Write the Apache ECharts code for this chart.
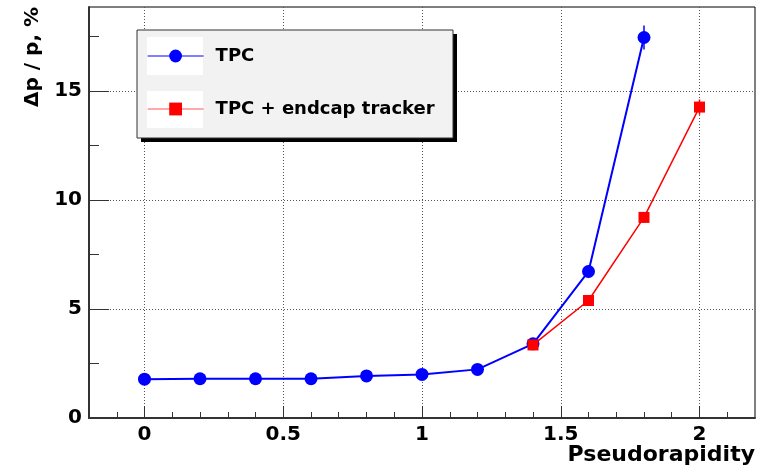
<!DOCTYPE html>
<html><head><meta charset="utf-8">
<script src="https://cdn.jsdelivr.net/npm/echarts@6/dist/echarts.min.js"></script>
<style>html,body{margin:0;padding:0;background:#fff}#c{width:769px;height:472px}</style>
</head><body><div id="c"></div>
<script>
// ---- data ----
const etaTPC = [0, 0.2, 0.4, 0.6, 0.8, 1.0, 1.2, 1.4, 1.6, 1.8];
const resTPC = [1.78, 1.80, 1.80, 1.80, 1.93, 2.00, 2.23, 3.40, 6.72, 17.45];
const errTPC = [0.05, 0.05, 0.05, 0.05, 0.05, 0.06, 0.07, 0.12, 0.30, 0.55];
const etaEndcap = [1.4, 1.6, 1.8, 2.0];
const resEndcap = [3.35, 5.39, 9.20, 14.26];
const errEndcap = [0.10, 0.15, 0.25, 0.35];
const xMajor = [0, 0.5, 1, 1.5, 2];
const xMinor = [-0.1, 0.1, 0.2, 0.3, 0.4, 0.6, 0.7, 0.8, 0.9, 1.1, 1.2, 1.3, 1.4, 1.6, 1.7, 1.8, 1.9, 2.1];
const yMajor = [0, 5, 10, 15];
const yMinor = [2.5, 7.5, 12.5, 17.5];
const seriesNames = ['TPC', 'TPC + endcap tracker'];
const xTitle = 'Pseudorapidity';
const yTitle = 'Δp / p, %';

const FONT = "'DejaVu Sans', 'Liberation Sans', Arial, sans-serif";
const BLUE = '#0000ff', RED = '#ff0000';

const pts = (xs, ys) => xs.map((x, i) => [x, ys[i]]);
const errPts = (xs, ys, es) => xs.map((x, i) => [x, ys[i], es[i]]);

function errRender(color) {
  return function (params, api) {
    const x = api.value(0), y = api.value(1), e = api.value(2);
    const a = api.coord([x, y + e]), b = api.coord([x, y - e]);
    return { type: 'line', shape: { x1: a[0], y1: a[1], x2: b[0], y2: b[1] },
             style: { stroke: color, lineWidth: 1.5 } };
  };
}

const chart = echarts.init(document.getElementById('c'), null, { renderer: 'canvas' });
const labelStyle = { fontFamily: FONT, fontWeight: 'bold', fontSize: 20, color: '#000' };

chart.setOption({
  animation: false,
  backgroundColor: '#fff',
  grid: { left: 89, right: 14, top: 7, bottom: 54, show: true, borderColor: '#000', borderWidth: 1,
          containLabel: false, outerBoundsMode: 'none' },
  xAxis: [
    { type: 'value', min: -0.2, max: 2.2, position: 'bottom', gridIndex: 0,
      axisLine: { show: true, onZero: false, lineStyle: { color: '#333', width: 2 } },
      axisTick: { show: true, inside: true, length: 12, customValues: xMajor, lineStyle: { color: '#333', width: 1 } },
      axisLabel: Object.assign({ customValues: xMajor, margin: 7 }, labelStyle),
      splitLine: { show: true, lineStyle: { type: [1, 2], color: '#555', width: 1 } },
      name: xTitle, nameLocation: 'end', nameGap: 0, nameMoveOverlap: false,
      nameTextStyle: { fontFamily: FONT, fontWeight: 'bold', fontSize: 22, color: '#000', align: 'right', verticalAlign: 'top', padding: [26, 0, 0, 0] } },
    { type: 'value', min: -0.2, max: 2.2, position: 'bottom', gridIndex: 0,
      axisLine: { show: false, onZero: false },
      axisTick: { show: true, inside: true, length: 6, customValues: xMinor, lineStyle: { color: '#333', width: 1 } },
      axisLabel: { show: false }, splitLine: { show: false } }
  ],
  yAxis: [
    { type: 'value', min: 0, max: 18.85, position: 'left', gridIndex: 0,
      axisLine: { show: true, onZero: false, lineStyle: { color: '#333', width: 2 } },
      axisTick: { show: true, inside: true, length: 20, customValues: yMajor, lineStyle: { color: '#333', width: 1 } },
      axisLabel: Object.assign({ customValues: yMajor, margin: 7 }, labelStyle),
      splitLine: { show: true, lineStyle: { type: [1, 2], color: '#555', width: 1 } },
      name: yTitle, nameLocation: 'end', nameGap: 0, nameRotate: 90, nameMoveOverlap: false,
      nameTextStyle: { fontFamily: FONT, fontWeight: 'bold', fontSize: 20, color: '#000', align: 'right', verticalAlign: 'bottom', padding: [0, 0, 46, 0] } },
    { type: 'value', min: 0, max: 18.85, position: 'left', gridIndex: 0,
      axisLine: { show: false, onZero: false },
      axisTick: { show: true, inside: true, length: 10, customValues: yMinor, lineStyle: { color: '#333', width: 1 } },
      axisLabel: { show: false }, splitLine: { show: false } }
  ],
  legend: {
    orient: 'vertical', left: 147, top: 46, padding: 0,
    itemWidth: 56, itemHeight: 16, itemGap: 33, selectedMode: false,
    textStyle: { fontFamily: FONT, fontWeight: 'bold', fontSize: 18, color: '#000', lineHeight: 20, padding: [0, 0, 0, 7] },
    data: [
      { name: seriesNames[0], lineStyle: { width: 1, color: BLUE } },
      { name: seriesNames[1], lineStyle: { width: 1.2, color: '#ff5555' } }
    ]
  },
  graphic: [
    { type: 'rect', z: 3, shape: { x: 141, y: 34, width: 316, height: 108 }, style: { fill: '#000' } },
    { type: 'rect', z: 3, shape: { x: 137, y: 30, width: 316, height: 108 }, style: { fill: '#f2f2f2', stroke: '#333', lineWidth: 1 } },
    { type: 'rect', z: 3, shape: { x: 147, y: 37, width: 56, height: 38 }, style: { fill: '#fff' } },
    { type: 'rect', z: 3, shape: { x: 147, y: 91, width: 56, height: 37 }, style: { fill: '#fff' } }
  ],
  series: [
    { type: 'custom', name: 'TPC err', xAxisIndex: 0, yAxisIndex: 0, renderItem: errRender(BLUE),
      data: errPts(etaTPC, resTPC, errTPC), z: 1, silent: true },
    { type: 'custom', name: 'endcap err', xAxisIndex: 0, yAxisIndex: 0, renderItem: errRender(RED),
      data: errPts(etaEndcap, resEndcap, errEndcap), z: 1, silent: true },
    { type: 'line', name: seriesNames[0], xAxisIndex: 0, yAxisIndex: 0, data: pts(etaTPC, resTPC),
      symbol: 'circle', symbolSize: 13, lineStyle: { color: BLUE, width: 2 }, itemStyle: { color: BLUE }, z: 2 },
    { type: 'line', name: seriesNames[1], xAxisIndex: 0, yAxisIndex: 0, data: pts(etaEndcap, resEndcap),
      symbol: 'rect', symbolSize: 11, lineStyle: { color: RED, width: 1.5 }, itemStyle: { color: RED }, z: 2 }
  ]
});
</script>
</body></html>
